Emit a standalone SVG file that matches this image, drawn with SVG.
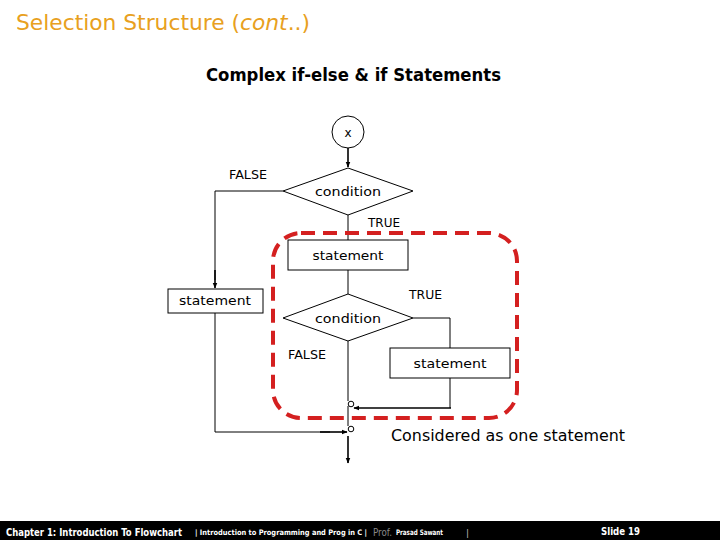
<svg xmlns="http://www.w3.org/2000/svg" width="720" height="540" viewBox="0 0 720 540">
<defs>
<style>
.ln{fill:none;stroke:#000;stroke-width:1}
.lnb{fill:none;stroke:#000;stroke-width:1.6}
.box{fill:#fff;stroke:#000;stroke-width:1}
.t{font-family:"DejaVu Sans","Liberation Sans",sans-serif;font-size:13px;fill:#000}
.lab{font-family:"DejaVu Sans","Liberation Sans",sans-serif;font-size:12px;fill:#000}
.ft{font-family:"DejaVu Sans Condensed","DejaVu Sans",sans-serif;font-weight:bold;fill:#fff}
.pipe{font-family:"DejaVu Sans",sans-serif;font-size:9px;fill:#bbb}
</style>
<marker id="ah" viewBox="0 0 10 10" refX="9" refY="5" markerWidth="6" markerHeight="6" orient="auto" markerUnits="userSpaceOnUse">
<path d="M0,1 L10,5 L0,9 z" fill="#000"/>
</marker>
</defs>
<rect width="720" height="540" fill="#fff"/>
<text x="16" y="30" font-family="DejaVu Sans,sans-serif" font-size="21" fill="#E8A020" textLength="294" lengthAdjust="spacingAndGlyphs">Selection Structure (<tspan font-style="italic">cont</tspan>..)</text>
<text x="206" y="81" font-family="DejaVu Sans,sans-serif" font-size="17" font-weight="bold" fill="#000" textLength="295" lengthAdjust="spacingAndGlyphs">Complex if-else &amp; if Statements</text>

<g id="connectors">
<line class="lnb" x1="348" y1="148" x2="348" y2="167" marker-end="url(#ah)"/>
<polyline class="ln" points="283,191 215,191 215,280"/>
<line class="lnb" x1="215" y1="270" x2="215" y2="288" marker-end="url(#ah)"/>
<line class="ln" x1="348" y1="215" x2="348" y2="240"/>
<line class="ln" x1="348" y1="270" x2="348" y2="294"/>
<polyline class="ln" points="413,318 450,318 450,348"/>
<line class="ln" x1="348" y1="341" x2="348" y2="401"/>
<polyline class="ln" points="450,378 450,408"/>
<line class="lnb" x1="451" y1="408" x2="354" y2="408" marker-end="url(#ah)"/>
<line class="ln" x1="348" y1="406" x2="348" y2="426"/>
<polyline class="ln" points="215,313 215,432 330,432"/>
<line class="lnb" x1="320" y1="432" x2="347" y2="432" marker-end="url(#ah)"/>
<line class="lnb" x1="348" y1="436" x2="348" y2="463" marker-end="url(#ah)"/>
<circle cx="351" cy="404" r="2.8" fill="#fff" stroke="#000" stroke-width="1"/>
<circle cx="351" cy="429" r="2.8" fill="#fff" stroke="#000" stroke-width="1"/>
<text class="lab" x="229" y="179" textLength="38" lengthAdjust="spacingAndGlyphs">FALSE</text>
<text class="lab" x="368" y="227" textLength="32" lengthAdjust="spacingAndGlyphs">TRUE</text>
<text class="lab" x="409" y="299" textLength="33" lengthAdjust="spacingAndGlyphs">TRUE</text>
<text class="lab" x="288" y="359" textLength="38" lengthAdjust="spacingAndGlyphs">FALSE</text>
</g>

<g id="start">
<circle cx="348" cy="132" r="16" fill="#fff" stroke="#000" stroke-width="1"/>
<text class="lab" x="348" y="137" text-anchor="middle">x</text>
</g>
<g id="cond1">
<polygon class="box" points="348,168 413,191 348,215 283,191"/>
<text class="t" x="348" y="196" text-anchor="middle" textLength="66" lengthAdjust="spacingAndGlyphs">condition</text>
</g>
<g id="stmt1">
<rect class="box" x="288" y="240" width="120" height="30"/>
<text class="t" x="348" y="260" text-anchor="middle" textLength="71" lengthAdjust="spacingAndGlyphs">statement</text>
</g>
<g id="stmt-left">
<rect class="box" x="168" y="289" width="95" height="24"/>
<text class="t" x="215" y="305" text-anchor="middle" textLength="72" lengthAdjust="spacingAndGlyphs">statement</text>
</g>
<g id="cond2">
<polygon class="box" points="348,294 413,318 348,341 283,318"/>
<text class="t" x="348" y="323" text-anchor="middle" textLength="66" lengthAdjust="spacingAndGlyphs">condition</text>
</g>
<g id="stmt2">
<rect class="box" x="390" y="348" width="120" height="30"/>
<text class="t" x="450" y="368" text-anchor="middle" textLength="73" lengthAdjust="spacingAndGlyphs">statement</text>
</g>
<g id="group">
<rect x="273" y="233" width="244" height="185" rx="28" ry="28" fill="none" stroke="#D42020" stroke-width="4" stroke-dasharray="14,8"/>
<text x="391" y="441" font-family="DejaVu Sans,sans-serif" font-size="16" fill="#000" textLength="234" lengthAdjust="spacingAndGlyphs">Considered as one statement</text>
</g>

<g id="footer">
<rect x="0" y="521" width="720" height="19" fill="#000"/>
<text class="ft" x="6" y="536" font-size="11" textLength="176" lengthAdjust="spacingAndGlyphs">Chapter 1: Introduction To Flowchart</text>
<text class="ft" x="195" y="535" font-size="7.5" textLength="172" lengthAdjust="spacingAndGlyphs">| Introduction to Programming and Prog in C |</text>
<text x="373" y="536" font-family="DejaVu Sans,sans-serif" font-size="10" fill="#888" textLength="19" lengthAdjust="spacingAndGlyphs">Prof.</text>
<text class="ft" x="396" y="535" font-size="7.5" textLength="47" lengthAdjust="spacingAndGlyphs">Prasad Sawant</text>
<text class="pipe" x="466" y="536">|</text>
<text class="ft" x="601" y="535" font-size="11" textLength="39" lengthAdjust="spacingAndGlyphs">Slide 19</text>
</g>
</svg>
